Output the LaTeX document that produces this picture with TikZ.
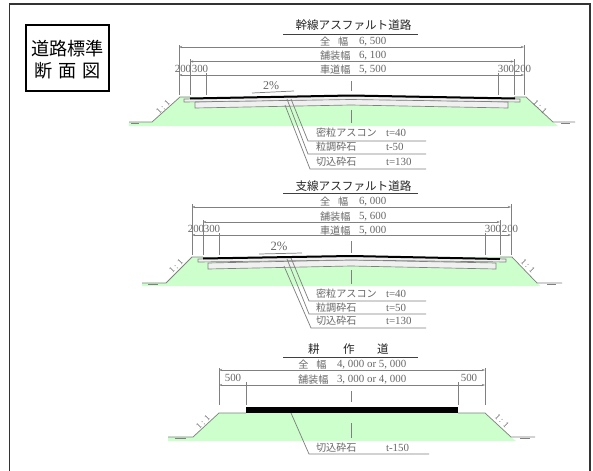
\documentclass[tikz,border=0pt]{standalone}
\usepackage{fontspec}
\setmainfont{Liberation Serif}
\newfontfamily\jp{Noto Sans CJK JP}
\usetikzlibrary{arrows.meta}
\definecolor{grassgreen}{HTML}{CCFFCC}
\definecolor{inkgray}{HTML}{808080}
\definecolor{labelgray}{HTML}{686868}
\definecolor{slabfill}{HTML}{F0F0F0}
\tikzset{
  x=0.75pt,y=-0.75pt,
  thinline/.style={draw=inkgray,line width=0.55pt},
  dimline/.style={thinline,{Stealth[length=2.4pt,width=1.6pt]}-{Stealth[length=2.4pt,width=1.6pt]}},
  lbl/.style={inner sep=0pt,outer sep=0pt,text=labelgray,font=\jp\fontsize{7.6pt}{9pt}\selectfont,anchor=west},
  num/.style={inner sep=0pt,outer sep=0pt,text=labelgray,font=\fontsize{8.2pt}{9pt}\selectfont,anchor=west},
  numc/.style={num,anchor=center},
  sectitle/.style={inner sep=0pt,outer sep=0pt,text=black!85,font=\jp\fontsize{8.7pt}{10pt}\selectfont,anchor=center},
  boxtitle/.style={inner sep=0pt,outer sep=0pt,text=black,font=\jp\fontsize{13.6pt}{15pt}\selectfont,anchor=center},
  slope/.style={inner sep=0pt,outer sep=0pt,text=labelgray,font=\fontsize{6.4pt}{7pt}\selectfont},
  slab/.style={fill=slabfill,draw=inkgray,line width=0.5pt},
}
\begin{document}
\begin{tikzpicture}
\useasboundingbox (0,0) rectangle (593,471);
\fill[white] (0,0) rectangle (593,471);
% outer frame
\draw[black!80,line width=1pt] (9.5,471) -- (9.5,4) -- (590,4) -- (590,471);
% title box
\draw[black,line width=1.1pt] (26,25) rectangle (109,91);
\node[boxtitle] (boxa) at (67.5,49) {道路標準};
\node[boxtitle] (boxb) at (67.5,71) {断\hspace{4.6pt}面\hspace{4.6pt}図};

% ===== section 1 =====
\fill[grassgreen] (129,126) -- (129,122) -- (152,122) -- (180,97) -- (526,97) -- (553,122) -- (558,126) -- cycle;
\draw[thinline] (129,122) -- (152,122) -- (180,97) -- (190,97);
\draw[thinline] (514,97) -- (526,97) -- (553,122) -- (575,122);
\draw[thinline] (131,123.5) -- (139,123.5) (561,123.5) -- (570,123.5);
\draw[slab] (195,102) -- (351,99) -- (508,102) -- (508,108) -- (351,105) -- (195,108) -- cycle;
\draw[slab] (184,99) -- (351,96) -- (520,99) -- (520,102) -- (351,99.5) -- (184,102) -- cycle;
\draw[black,line width=1.5pt] (190,98.5) -- (351,95.5) -- (515,98.5);
\draw[dimline] (179,47) -- (524,47);
\draw[dimline] (190,61.5) -- (514,61.5);
\draw[dimline] (179,75) -- (524,75);
\draw[thinline] (179,45) -- (179,95) (524,45) -- (524,95) (190,59) -- (190,95) (514,59) -- (514,95)
  (206,73) -- (206,95) (498,73) -- (498,95) (351,81) -- (351,91) (351,110) -- (351,123);
\node[sectitle] (t1) at (353.5,25) {幹線アスファルト道路};
\draw[black!75,line width=0.7pt] (283,34) -- (418,34);
\node[lbl] (a1) at (320,42) {全\hspace{6pt}幅};
\node[num] (a1n) at (359,42) {6, 500};
\node[lbl] (a2) at (320,56) {舗装幅};
\node[num] (a2n) at (359,56) {6, 100};
\node[lbl] (a3) at (320,70) {車道幅};
\node[num] (a3n) at (359,70) {5, 500};
\node[numc] (a4) at (183,68.5) {200};
\node[numc] (a5) at (200,68.5) {300};
\node[numc] (a6) at (506,69) {300};
\node[numc] (a7) at (523,69) {200};
\node[numc,font=\fontsize{9pt}{10pt}\selectfont] (a8) at (271,86) {2\%};
\draw[thinline] (252,93) -- (294,91);
\node[slope,rotate=45] (a9) at (163,107) {1 : 1};
\node[slope,rotate=-45] (a10) at (540,107) {1 : 1};
\draw[thinline] (291,99) -- (308,141) -- (426,141);
\draw[thinline] (287,99) -- (308,154) -- (426,154);
\draw[thinline] (285,105) -- (310,169) -- (426,169);
\node[lbl] (a11) at (316,133) {密粒アスコン};
\node[num] (a12) at (386,133) {t=40};
\node[lbl] (a13) at (316,147) {粒調砕石};
\node[num] (a14) at (386,147) {t-50};
\node[lbl] (a15) at (316,161.5) {切込砕石};
\node[num] (a16) at (386,161.5) {t=130};

% ===== section 2 =====
\fill[grassgreen] (142,286) -- (142,283) -- (166,283) -- (192,257) -- (512,257) -- (537,283) -- (540,286) -- cycle;
\draw[thinline] (142,283) -- (166,283) -- (192,257) -- (203,257);
\draw[thinline] (500,257) -- (512,257) -- (537,283) -- (562,283);
\draw[thinline] (148,284.5) -- (158,284.5) (547,284.5) -- (556,284.5);
\draw[slab] (208,263) -- (351,260) -- (496,263) -- (496,269) -- (351,266) -- (208,269) -- cycle;
\draw[slab] (198,259) -- (351,256) -- (506,259) -- (506,262) -- (351,260) -- (198,262) -- cycle;
\draw[black,line width=1.5pt] (203,258.5) -- (351,256) -- (500,259);
\draw[dimline] (192,207) -- (511,207);
\draw[dimline] (203,222) -- (500,222);
\draw[dimline] (192,235) -- (511,235);
\draw[thinline] (192,204) -- (192,255) (511,204) -- (511,255) (203,220) -- (203,255) (500,220) -- (500,255)
  (219,233) -- (219,255) (485,233) -- (485,255) (351,241) -- (351,253) (351,270) -- (351,284);
\node[sectitle] (t2) at (353.5,186) {支線アスファルト道路};
\draw[black!75,line width=0.7pt] (283,193.5) -- (418,193.5);
\node[lbl] (b1) at (320,202) {全\hspace{6pt}幅};
\node[num] (b1n) at (359,202) {6, 000};
\node[lbl] (b2) at (320,217) {舗装幅};
\node[num] (b2n) at (359,217) {5, 600};
\node[lbl] (b3) at (320,231) {車道幅};
\node[num] (b3n) at (359,231) {5, 000};
\node[numc] (b4) at (196,229) {200};
\node[numc] (b5) at (212,229) {300};
\node[numc] (b6) at (493,229) {300};
\node[numc] (b7) at (510,229) {200};
\node[numc,font=\fontsize{9.5pt}{10pt}\selectfont] (b8) at (279,246) {2\%};
\draw[thinline] (259,254) -- (302,253);
\node[slope,rotate=45] (b9) at (176,266) {1 : 1};
\node[slope,rotate=-45] (b10) at (528,266) {1 : 1};
\draw[thinline] (291,258) -- (309,301) -- (426,301);
\draw[thinline] (287,259) -- (309,314) -- (426,314);
\draw[thinline] (284,266) -- (311,328) -- (426,328);
\node[lbl] (b11) at (316,294) {密粒アスコン};
\node[num] (b12) at (386,294) {t=40};
\node[lbl] (b13) at (316,307.5) {粒調砕石};
\node[num] (b14) at (386,307.5) {t=50};
\node[lbl] (b15) at (316,321) {切込砕石};
\node[num] (b16) at (386,321) {t=130};

% ===== section 3 =====
\fill[grassgreen] (168,441) -- (168,437) -- (193,437) -- (219,413) -- (485,413) -- (511,437) -- (516,441) -- cycle;
\draw[thinline] (168,437) -- (193,437) -- (219,413) -- (246,413);
\draw[thinline] (458,413) -- (485,413) -- (511,437) -- (535,437);
\draw[thinline] (175,438.5) -- (186,438.5) (520,438.5) -- (530,438.5);
\fill[black] (246,407) rectangle (458,413);
\draw[dimline] (219,370) -- (485,370);
\draw[dimline] (219,385) -- (485,385);
\draw[thinline] (219,368) -- (219,405) (485,368) -- (485,405) (246,382) -- (246,405) (458,382) -- (458,405)
  (351,391) -- (351,402) (351,423) -- (351,438);
\node[sectitle] (t3a) at (314,349) {耕};
\node[sectitle] (t3b) at (349,349) {作};
\node[sectitle] (t3c) at (383,349) {道};
\draw[black!75,line width=0.7pt] (283,357) -- (418,357);
\node[lbl,anchor=center] (c1) at (312.5,365) {全\hspace{6pt}幅};
\node[num] (c1n) at (337,365) {4, 000 or 5, 000};
\node[lbl] (c2) at (298,379.5) {舗装幅};
\node[num] (c2n) at (337,379.5) {3, 000 or 4, 000};
\node[numc] (c3) at (233,378) {500};
\node[numc] (c4) at (469,378) {500};
\node[slope,rotate=45] (c5) at (203,422) {1 : 1};
\node[slope,rotate=-45] (c6) at (502,421) {1 : 1};
\draw[thinline] (291,413) -- (309,454) -- (429,454);
\node[lbl] (c7) at (316,448) {切込砕石};
\node[num] (c8) at (386,448) {t-150};
\end{tikzpicture}
\end{document}
